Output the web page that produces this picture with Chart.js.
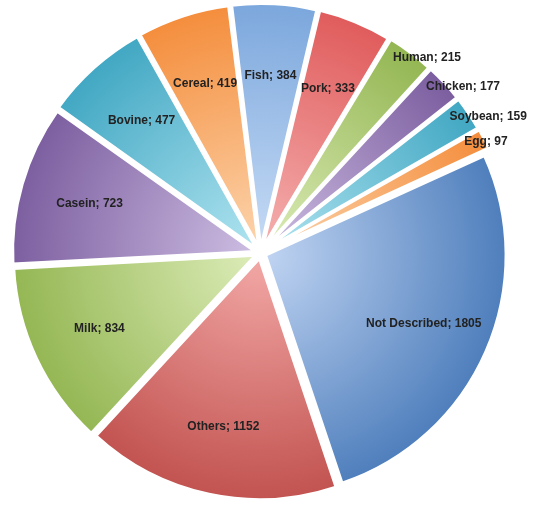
<!DOCTYPE html>
<html><head><meta charset="utf-8">
<script src="https://cdn.jsdelivr.net/npm/chart.js@4/dist/chart.umd.min.js"></script>
<style>body{margin:0;background:#fff}#wrap{width:551px;height:520px}</style>
</head><body><div id="wrap"><canvas id="myChart"></canvas></div>
<script>
const labels = ['Fish', 'Pork', 'Human', 'Chicken', 'Soybean', 'Egg', 'Not Described', 'Others', 'Milk', 'Casein', 'Bovine', 'Cereal'];
const values = [384, 333, 215, 177, 159, 97, 1805, 1152, 834, 723, 477, 419];
const colors = ['#7aa6dc', '#e05a5a', '#92b550', '#7a5c9e', '#3fa6c2', '#f48c3a', '#4a7bba', '#c0504d', '#92b550', '#7a5c9e', '#3fa6c2', '#f48c3a'];
const lights = ['#c6dbf5', '#f5b0b0', '#dcecb8', '#cdbde2', '#b0e4f0', '#fcd4ac', '#c0d4f2', '#f2a8a6', '#dcecb8', '#cdbde2', '#b0e4f0', '#fcd4ac'];
const outside = [false, false, true, true, true, true, false, false, false, false, false, false];

const labelPlugin = {
  id: 'sliceLabels',
  afterDatasetsDraw(chart) {
    const ctx = chart.ctx;
    const meta = chart.getDatasetMeta(0);
    ctx.save();
    ctx.font = 'bold 12px "Liberation Sans", Arial, sans-serif';
    ctx.fillStyle = '#222';
    meta.data.forEach((arc, i) => {
      const mid = (arc.startAngle + arc.endAngle) / 2;
      const r = outside[i] ? arc.outerRadius + 4 : arc.outerRadius * 0.74;
      const x = arc.x + Math.cos(mid) * r;
      const y = arc.y + Math.sin(mid) * r;
      ctx.textAlign = outside[i] ? 'left' : 'center';
      ctx.textBaseline = 'middle';
      ctx.fillText(labels[i] + '; ' + values[i], outside[i] ? x - 14 : x, y);
    });
    ctx.restore();
  }
};

const data = {
  labels: labels,
  datasets: [{
    data: values,
    backgroundColor: (c) => {
      const ch = c.chart, a = ch.chartArea;
      if (!a) return colors[c.dataIndex];
      const cx = (a.left + a.right) / 2, cy = (a.top + a.bottom) / 2;
      const g = ch.ctx.createRadialGradient(cx, cy, 0, cx, cy, 250);
      g.addColorStop(0, lights[c.dataIndex]);
      g.addColorStop(1, colors[c.dataIndex]);
      return g;
    },
    borderColor: '#ffffff',
    borderWidth: 3,
    offset: 22
  }]
};

const config = {
  type: 'pie',
  data: data,
  plugins: [labelPlugin],
  options: {
    responsive: true,
    maintainAspectRatio: false,
    animation: false,
    rotation: -7,
    layout: { padding: { left: 0, right: 30, top: 0, bottom: 14 } },
    plugins: { legend: { display: false }, tooltip: { enabled: false } }
  }
};

const myChart = new Chart(document.getElementById('myChart'), config);
</script>
</body></html>
